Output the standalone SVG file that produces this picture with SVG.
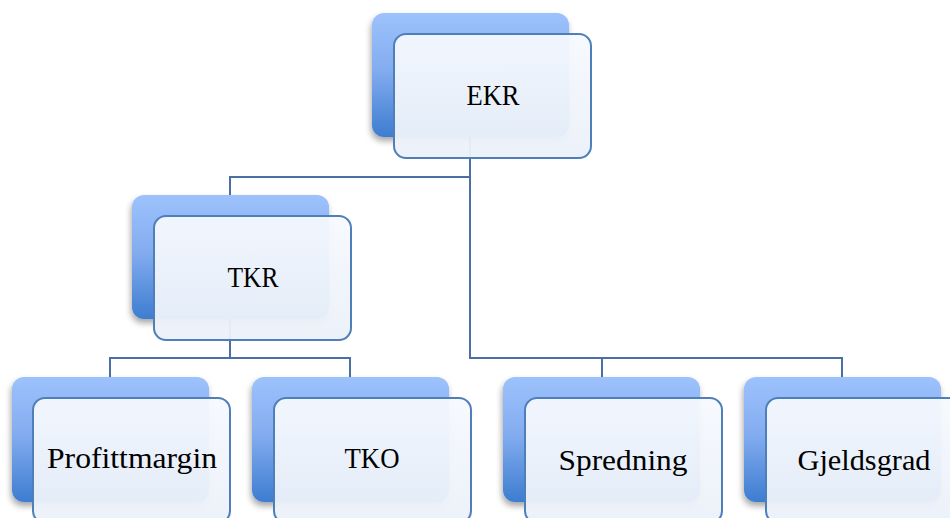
<svg xmlns="http://www.w3.org/2000/svg" width="950" height="518" viewBox="0 0 950 518">
<defs>
<linearGradient id="gBack" x1="0" y1="0" x2="0" y2="1">
<stop offset="0" stop-color="#9dc2fc"/>
<stop offset="0.45" stop-color="#84adf0"/>
<stop offset="1" stop-color="#3d7dd0"/>
</linearGradient>
<linearGradient id="gFront" x1="0" y1="0" x2="0" y2="1">
<stop offset="0" stop-color="#f6f9fe"/>
<stop offset="1" stop-color="#ebf1f9"/>
</linearGradient>
<filter id="sh" x="-20%" y="-20%" width="140%" height="150%">
<feDropShadow dx="-1" dy="4" stdDeviation="3" flood-color="#000" flood-opacity="0.35"/>
</filter>
</defs>
<style>
.back{fill:url(#gBack);filter:url(#sh)}
.front{fill:url(#gFront);fill-opacity:0.95;stroke:#4f7fbb;stroke-width:2}
.lbl{font-family:"Liberation Serif","Times New Roman",serif;font-size:29px;fill:#000;text-anchor:middle}
.conn{fill:none;stroke:#4a6fa5;stroke-width:2}
</style>
<g id="connectors">
<path class="conn" d="M470,137 V177 H230 V195"/>
<path class="conn" d="M470,177 V358 H842 V378"/>
<path class="conn" d="M602,358 V378"/>
<path class="conn" d="M230,319 V358 H110 V378"/>
<path class="conn" d="M230,358 H350 V378"/>
</g>
<g id="node-ekr">
<rect class="back" x="372" y="13" width="197" height="124" rx="12"/>
<rect class="front" x="394" y="34" width="197" height="124" rx="12"/>
<text class="lbl" x="493" y="105" textLength="53" lengthAdjust="spacingAndGlyphs">EKR</text>
</g>
<g id="node-tkr">
<rect class="back" x="132" y="195" width="197" height="124" rx="12"/>
<rect class="front" x="154" y="216" width="197" height="124" rx="12"/>
<text class="lbl" x="253" y="287" textLength="51" lengthAdjust="spacingAndGlyphs">TKR</text>
</g>
<g id="node-profittmargin">
<rect class="back" x="12" y="377" width="197" height="125" rx="12"/>
<rect class="front" x="33" y="398" width="197" height="125" rx="12"/>
<text class="lbl" x="132" y="468" textLength="170" lengthAdjust="spacingAndGlyphs">Profittmargin</text>
</g>
<g id="node-tko">
<rect class="back" x="252" y="377" width="197" height="125" rx="12"/>
<rect class="front" x="274" y="398" width="197" height="125" rx="12"/>
<text class="lbl" x="372" y="468" textLength="55" lengthAdjust="spacingAndGlyphs">TKO</text>
</g>
<g id="node-spredning">
<rect class="back" x="503" y="377" width="197" height="125" rx="12"/>
<rect class="front" x="525" y="398" width="197" height="125" rx="12"/>
<text class="lbl" x="623" y="470" textLength="129" lengthAdjust="spacingAndGlyphs">Spredning</text>
</g>
<g id="node-gjeldsgrad">
<rect class="back" x="744" y="377" width="197" height="125" rx="12"/>
<rect class="front" x="766" y="398" width="197" height="125" rx="12"/>
<text class="lbl" x="864" y="470" textLength="133" lengthAdjust="spacingAndGlyphs">Gjeldsgrad</text>
</g>
</svg>
